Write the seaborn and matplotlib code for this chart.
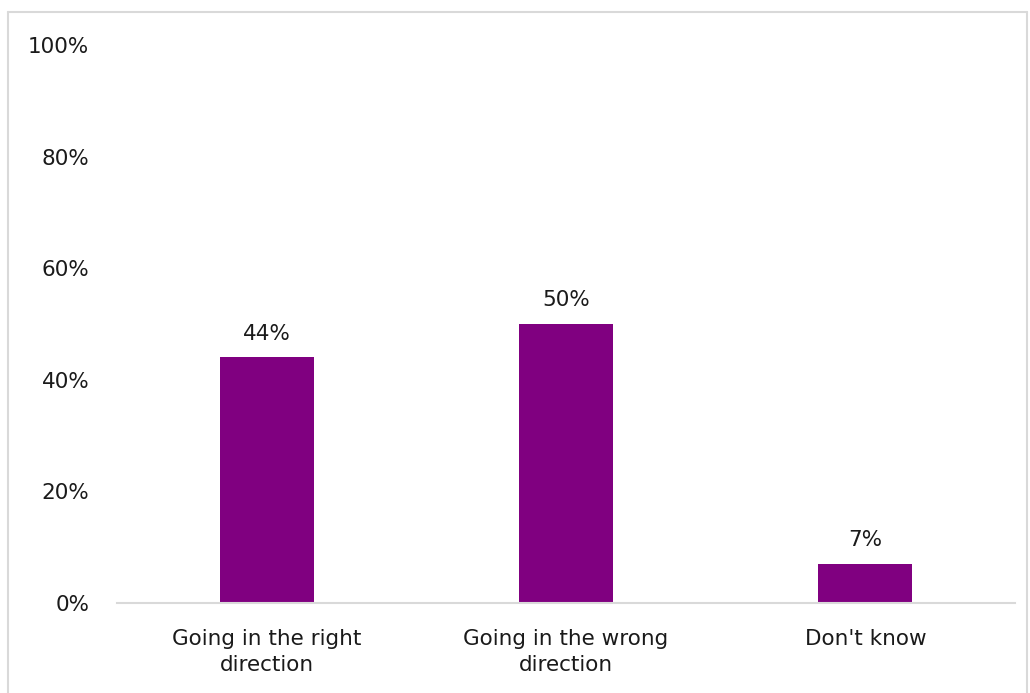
import matplotlib
matplotlib.use("Agg")
import matplotlib.pyplot as plt
import seaborn as sns
import pandas as pd
from matplotlib.lines import Line2D
from matplotlib.ticker import FuncFormatter

categories = ["Going in the right\ndirection", "Going in the wrong\ndirection", "Don't know"]
values = [44, 50, 7]
yticks = [0, 20, 40, 60, 80, 100]

sns.set_theme(style="white")
plt.rcParams['font.family'] = ['DejaVu Sans']

fig = plt.figure(figsize=(10.3, 6.93), dpi=100)
ax = fig.add_axes([117/1030, 1-603/693, (1015-117)/1030, (603-45)/693])

df = pd.DataFrame({"cat": categories, "val": values})
sns.barplot(data=df, x="cat", y="val", color="#800080", saturation=1, width=0.314,
            linewidth=0, ax=ax)

fs = 15.5
ax.set_ylim(0, 100)
ax.set_yticks(yticks)
ax.yaxis.set_major_formatter(FuncFormatter(lambda v, p: f"{v:.0f}%"))
ax.set_xlabel("")
ax.set_ylabel("")
for s in ["top", "right", "left"]:
    ax.spines[s].set_visible(False)
ax.spines["bottom"].set_color("#d9d9d9")
ax.spines["bottom"].set_linewidth(1.5)
ax.tick_params(axis="y", length=0, pad=20, labelsize=fs, labelcolor="#1a1a1a")
ax.tick_params(axis="x", length=0, pad=19, labelsize=fs, labelcolor="#1a1a1a")
for lbl in ax.get_xticklabels():
    lbl.set_linespacing(1.35)

for c in ax.containers:
    ax.bar_label(c, labels=[f"{v:g}%" for v in values], padding=10, fontsize=fs, color="#1a1a1a")

# outer frame (left, top, right)
col = "#d9d9d9"
x0, x1, yt = 8/1030, 1027/1030, 1-12/693
fig.add_artist(Line2D([x0, x0], [0, yt], color=col, lw=1.5, transform=fig.transFigure))
fig.add_artist(Line2D([x0, x1], [yt, yt], color=col, lw=1.5, transform=fig.transFigure))
fig.add_artist(Line2D([x1, x1], [0, yt], color=col, lw=1.5, transform=fig.transFigure))

fig.savefig("out.png", dpi=100)
